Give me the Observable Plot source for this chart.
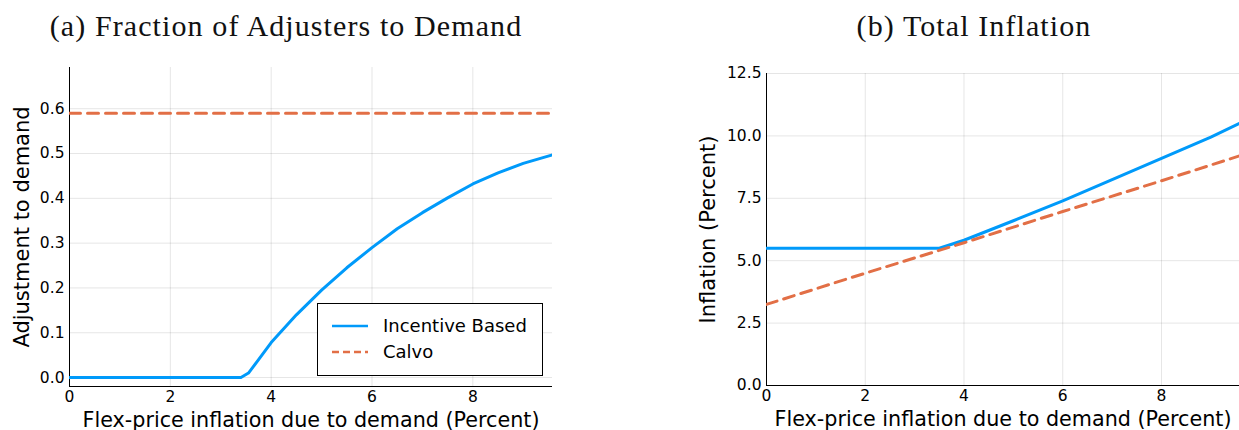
<!DOCTYPE html>
<html><head><meta charset="utf-8">
<script src="https://cdn.jsdelivr.net/npm/d3@7"></script>
<script src="https://cdn.jsdelivr.net/npm/@observablehq/plot@0.6"></script>
<style>
body{margin:0;background:#fff;width:1239px;height:430px;overflow:hidden;position:relative;font-family:"DejaVu Sans",sans-serif}
.title{position:absolute;top:10px;font-family:"Liberation Serif",serif;font-size:30px;letter-spacing:1.1px;line-height:32px;color:#111;white-space:nowrap;transform:translateX(-50%)}
.panel{position:absolute;top:50px}
.legend{position:absolute;left:317px;top:303px;width:226px;height:73px;border:1px solid #000;background:#fff;box-sizing:border-box;font-size:18px;color:#000}
.row{position:absolute;left:0;height:22px;line-height:22px}
.row svg{position:absolute;left:14px;top:0}
.row span{position:absolute;left:65px;white-space:nowrap}
</style></head><body>
<div class="title" style="left:286px">(a) Fraction of Adjusters to Demand</div>
<div class="title" style="left:974px">(b) Total Inflation</div>
<div id="left" class="panel" style="left:0"></div>
<div id="right" class="panel" style="left:620px"></div>
<div class="legend">
  <div class="row" style="top:11px"><svg width="40" height="22"><line x1="0" y1="11" x2="36" y2="11" stroke="#009AFA" stroke-width="2.5"/></svg><span>Incentive Based</span></div>
  <div class="row" style="top:37px"><svg width="40" height="22"><line x1="0" y1="11" x2="36" y2="11" stroke="#E26F46" stroke-width="2.5" stroke-dasharray="7,4"/></svg><span>Calvo</span></div>
</div>
<script>
// x-axis ticks (shared)
const xTicks = [0, 2, 4, 6, 8];
const xDomain = [0, 9.58];

// Panel (a): fraction of adjusters to demand
const yTicksA = [0, 0.1, 0.2, 0.3, 0.4, 0.5, 0.6];
const incentiveX_A = [0, 3.4, 3.55, 3.75, 4, 4.5, 5, 5.5, 6, 6.5, 7, 7.5, 8, 8.5, 9, 9.58];
const incentiveY_A = [0, 0, 0.01, 0.04, 0.078, 0.14, 0.195, 0.245, 0.29, 0.332, 0.368, 0.401, 0.432, 0.457, 0.478, 0.497];
const calvoX_A = [0, 9.58];
const calvoY_A = [0.59, 0.59];

// Panel (b): total inflation
const yTicksB = [0, 2.5, 5, 7.5, 10, 12.5];
const incentiveX_B = [0, 3.5, 4, 5, 6, 7, 8, 9, 9.58];
const incentiveY_B = [5.5, 5.5, 5.82, 6.6, 7.4, 8.25, 9.1, 9.95, 10.5];
const calvoX_B = [0, 2, 4, 6, 8, 9.58];
const calvoY_B = [3.25, 4.5, 5.72, 6.97, 8.2, 9.2];

const BLUE = "#009AFA", RED = "#E26F46";
const toRows = (xs, ys) => xs.map((x, i) => ({x, y: ys[i]}));
const xLabel = "Flex-price inflation due to demand (Percent)";

function panel({width, ml, mr, mt, mb, yDomain, yTicks, yFmt, yLabel, yLabelDx, series, yBase}) {
  return Plot.plot({
    width, height: 380, marginLeft: ml, marginRight: mr, marginTop: mt, marginBottom: mb,
    style: {fontFamily: "'DejaVu Sans', sans-serif", color: "#000", background: "transparent", overflow: "visible"},
    x: {domain: xDomain},
    y: {domain: yDomain},
    marks: [
      Plot.gridX(xTicks, {stroke: "#000", strokeOpacity: 0.1, strokeWidth: 1}),
      Plot.gridY(yTicks, {stroke: "#000", strokeOpacity: 0.1, strokeWidth: 1}),
      Plot.axisX(xTicks, {tickSize: 0, tickPadding: 4, fontSize: 15.5, tickFormat: d => String(d), label: null}),
      Plot.axisY(yTicks, {tickSize: 0, tickPadding: 5, fontSize: 15.5, tickFormat: yFmt, label: null}),
      Plot.ruleX([0], {stroke: "#000", strokeWidth: 1}),
      Plot.ruleY([yBase], {stroke: "#000", strokeWidth: 1}),
      ...series.map(s => Plot.line(toRows(s.x, s.y), {x: "x", y: "y", stroke: s.color, strokeWidth: 3, strokeDasharray: s.dash, clip: true})),
      Plot.text([xLabel], {frameAnchor: "bottom", dy: 40, fontSize: 20.7, fill: "#000"}),
      Plot.text([yLabel], {frameAnchor: "left", textAnchor: "middle", dx: yLabelDx, rotate: -90, fontSize: 21, fill: "#000"})
    ]
  });
}

document.getElementById("left").append(panel({
  width: 620, ml: 69, mr: 68, mt: 17, mb: 44,
  yDomain: [-0.02, 0.692], yTicks: yTicksA, yFmt: d3.format(".1f"),
  yLabel: "Adjustment to demand", yLabelDx: -47, yBase: -0.02,
  series: [
    {x: incentiveX_A, y: incentiveY_A, color: BLUE, dash: null},
    {x: calvoX_A, y: calvoY_A, color: RED, dash: "11,7"}
  ]
}));

document.getElementById("right").append(panel({
  width: 619, ml: 146, mr: 0, mt: 23, mb: 45,
  yDomain: [0, 12.5], yTicks: yTicksB, yFmt: d3.format(".1f"),
  yLabel: "Inflation (Percent)", yLabelDx: -58, yBase: 0,
  series: [
    {x: incentiveX_B, y: incentiveY_B, color: BLUE, dash: null},
    {x: calvoX_B, y: calvoY_B, color: RED, dash: "11,7"}
  ]
}));
</script>
</body></html>
